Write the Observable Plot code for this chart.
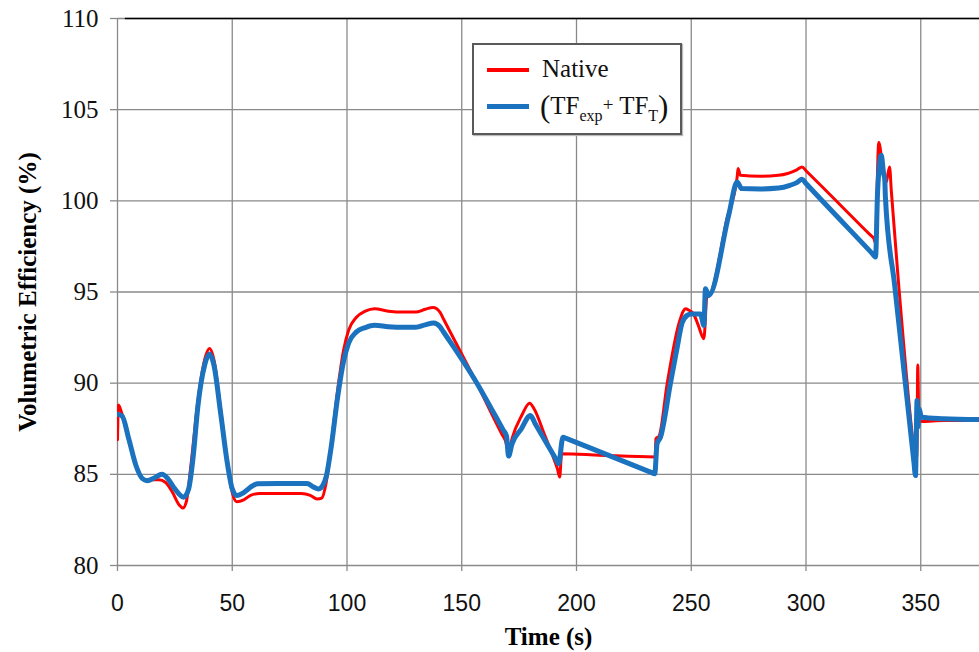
<!DOCTYPE html>
<html>
<head>
<meta charset="utf-8">
<script src="https://cdn.jsdelivr.net/npm/d3@7"></script>
<script src="https://cdn.jsdelivr.net/npm/@observablehq/plot@0.6"></script>
<style>
  html, body { margin: 0; padding: 0; background: #fff; }
  #wrap { position: relative; width: 979px; height: 652px; overflow: hidden; }
  #wrap svg { display: block; }
  #legend { position: absolute; left: 472px; top: 43px; width: 206px; height: 88px;
    border: 2px solid #5a5a5a; background: #fff; box-shadow: 1px 1px 1px #bbb;
    font-family: "Liberation Serif", serif; font-size: 25px; color: #111; }
  #legend .sw { position: absolute; left: 13px; width: 42px; }
  #legend .lab { position: absolute; left: 68px; line-height: 25px; white-space: nowrap; }
  #legend sub { font-size: 16px; vertical-align: -7px; line-height: 0; }
  #legend .par { font-size: 31px; vertical-align: -3px; line-height: 0; }
</style>
</head>
<body>
<div id="wrap"></div>
<script>
// Tick values
const xTicks = [0, 50, 100, 150, 200, 250, 300, 350];
const yTicks = [80, 85, 90, 95, 100, 105, 110];

// Series names
const seriesNames = ["Native", "(TFexp+ TFT)"];

// Native (red) series
const nativeT = [0, 0.4, 2, 5, 8, 11, 14, 18, 21, 24, 27, 28.5, 30, 32, 35, 38, 40.1, 42, 45, 48, 50, 52, 55, 58, 62, 70, 80, 84, 87, 89, 91, 93, 96, 98.5, 100.7, 104, 108, 112, 118, 125, 130, 134, 137.5, 140.5, 142, 155.9, 167.5, 169, 170.4, 172, 176, 179.6, 181.5, 186, 190, 191.7, 192.7, 193.5, 210, 234.3, 234.6, 236, 239.5, 244.6, 246.5, 247.5, 249, 251, 253, 255.5, 256.8, 258, 265.7, 270, 270.4, 271.4, 280, 288, 292, 296, 298.3, 300, 328, 329.6, 330.2, 331.7, 333.3, 334.9, 336.4, 337.2, 340, 346.5, 347.4, 348.3, 348.7, 349.2, 350.5, 360, 376];
const nativeV = [86.9, 88.8, 88.3, 86.9, 85.5, 84.75, 84.7, 84.7, 84.55, 84.0, 83.3, 83.15, 83.5, 85.5, 89.0, 91.3, 91.9, 91.3, 88.5, 85.5, 84.0, 83.5, 83.6, 83.85, 83.95, 83.95, 83.95, 83.85, 83.65, 83.7, 84.6, 86.5, 89.7, 91.8, 92.9, 93.6, 93.95, 94.08, 93.95, 93.9, 93.9, 94.05, 94.15, 93.9, 93.53, 90.15, 87.2, 86.85, 86.2, 87.0, 88.2, 88.9, 88.6, 87.2, 85.9, 85.3, 84.85, 86.13, 86.05, 85.95, 86.95, 87.1, 89.97, 93.26, 93.95, 94.08, 94.0, 93.8, 93.2, 92.44, 94.7, 94.8, 99.1, 101.3, 101.77, 101.4, 101.35, 101.4, 101.5, 101.7, 101.86, 101.65, 98.13, 97.93, 97.7, 103.2, 102.0, 101.0, 101.86, 100.5, 96.0, 86.9, 85.9, 86.0, 91.0, 88.0, 87.9, 87.95, 87.95];

// (TFexp + TFT) (blue) series
const tfT = [0, 2, 5, 8, 11, 13, 16, 19.4, 22, 25, 28.8, 31, 33, 35, 38, 40.1, 42, 45, 48, 50, 52, 55, 58, 61, 70, 82.6, 85.5, 87.6, 89.5, 91, 93, 96, 98.5, 100.7, 104, 108, 112, 118, 125, 130, 134, 137.8, 140.5, 142, 155.9, 168, 169.5, 170.4, 171.9, 176, 179.9, 182, 191, 192.2, 194.1, 195.5, 232.5, 234.1, 235.1, 236.6, 240.9, 243.9, 246, 248.2, 250, 254, 255.5, 256.2, 257.6, 266.3, 270, 272, 280, 288, 293, 296, 298.3, 300, 328.5, 330.3, 331.2, 332.8, 333.8, 334.3, 334.6, 338.7, 347, 347.7, 348.4, 348.8, 349.3, 350.3, 360, 376];
const tfV = [88.3, 88.2, 86.9, 85.5, 84.75, 84.65, 84.8, 85.0, 84.75, 84.2, 83.75, 84.2, 86.0, 88.7, 91.0, 91.6, 91.0, 88.3, 85.5, 84.2, 83.84, 84.0, 84.3, 84.48, 84.5, 84.5, 84.3, 84.2, 84.4, 84.9, 86.4, 89.3, 91.2, 92.2, 92.8, 93.05, 93.17, 93.1, 93.07, 93.07, 93.2, 93.3, 93.1, 92.82, 90.15, 87.44, 87.1, 86.0, 86.67, 87.5, 88.23, 87.78, 85.84, 85.58, 87.04, 86.97, 85.11, 85.03, 86.67, 87.04, 89.97, 91.98, 93.3, 93.72, 93.8, 93.8, 93.17, 95.18, 94.81, 99.2, 101.03, 100.67, 100.65, 100.7, 100.85, 101.0, 101.18, 100.95, 97.16, 96.92, 100.5, 102.5, 101.5, 101.2, 100.2, 95.3, 85.7, 84.93, 89.05, 87.6, 88.6, 88.13, 88.05, 88.0];

const native = nativeT.map((t, i) => ({t, v: nativeV[i]}));
const tf = tfT.map((t, i) => ({t, v: tfV[i]}));

const gridStyle = {stroke: "#8a8a8a", strokeOpacity: 1, strokeWidth: 1.3};

const chart = Plot.plot({
  width: 979,
  height: 652,
  marginLeft: 117,
  marginRight: 0,
  marginTop: 18,
  marginBottom: 87,
  style: {background: "#fff", color: "#111", overflow: "visible"},
  x: {domain: [0, 375.6]},
  y: {domain: [80, 110]},
  marks: [
    Plot.gridX(xTicks, gridStyle),
    Plot.gridY(yTicks, gridStyle),
    Plot.ruleY([110], {x1: 3.4, x2: 375.6, stroke: "#000", strokeWidth: 1.6}),
    Plot.axisY(yTicks, {tickSize: 7, tickPadding: 12, stroke: "#8a8a8a", strokeWidth: 1.3, label: null, fontSize: 25, fontFamily: "Liberation Serif"}),
    Plot.axisX(xTicks, {tickSize: 6, tickPadding: 23, stroke: "#8a8a8a", strokeWidth: 1.3, label: null, fontSize: 23, fontFamily: "Liberation Sans"}),
    Plot.line(native, {x: "t", y: "v", stroke: "#ff0000", strokeWidth: 3, curve: "monotone-x", clip: true}),
    Plot.line(tf, {x: "t", y: "v", stroke: "#1b72be", strokeWidth: 5, curve: "monotone-x", clip: true}),
    Plot.text(["Volumetric Efficiency (%)"], {frameAnchor: "left", dx: -90, rotate: -90, textAnchor: "middle", fontSize: 25, fontWeight: "bold", fontFamily: "Liberation Serif", fill: "#000"}),
    Plot.text(["Time (s)"], {frameAnchor: "bottom", dy: 79, textAnchor: "middle", fontSize: 25, fontWeight: "bold", fontFamily: "Liberation Serif", fill: "#000"})
  ]
});

// Make sure the tick-label fonts are applied
d3.select(chart).selectAll('g[aria-label="y-axis tick label"]')
  .style("font-family", '"Liberation Serif", serif').style("font-size", "25px");
d3.select(chart).selectAll('g[aria-label="x-axis tick label"]')
  .style("font-family", '"Liberation Sans", sans-serif').style("font-size", "23px");

const wrap = document.getElementById("wrap");
wrap.appendChild(chart);

// Legend (HTML overlay)
const legend = document.createElement("div");
legend.id = "legend";
legend.innerHTML =
  `<div class="sw" style="top:23px;height:4px;background:#ff0000"></div>` +
  `<div class="lab" style="top:11px">${seriesNames[0]}</div>` +
  `<div class="sw" style="top:59px;height:5px;background:#1b72be"></div>` +
  `<div class="lab" style="top:47px;left:66px"><span class="par">(</span>TF<sub>exp</sub><span style="font-size:19px;vertical-align:3px">+</span> TF<sub>T</sub><span class="par">)</span></div>`;
wrap.appendChild(legend);
</script>
</body>
</html>
